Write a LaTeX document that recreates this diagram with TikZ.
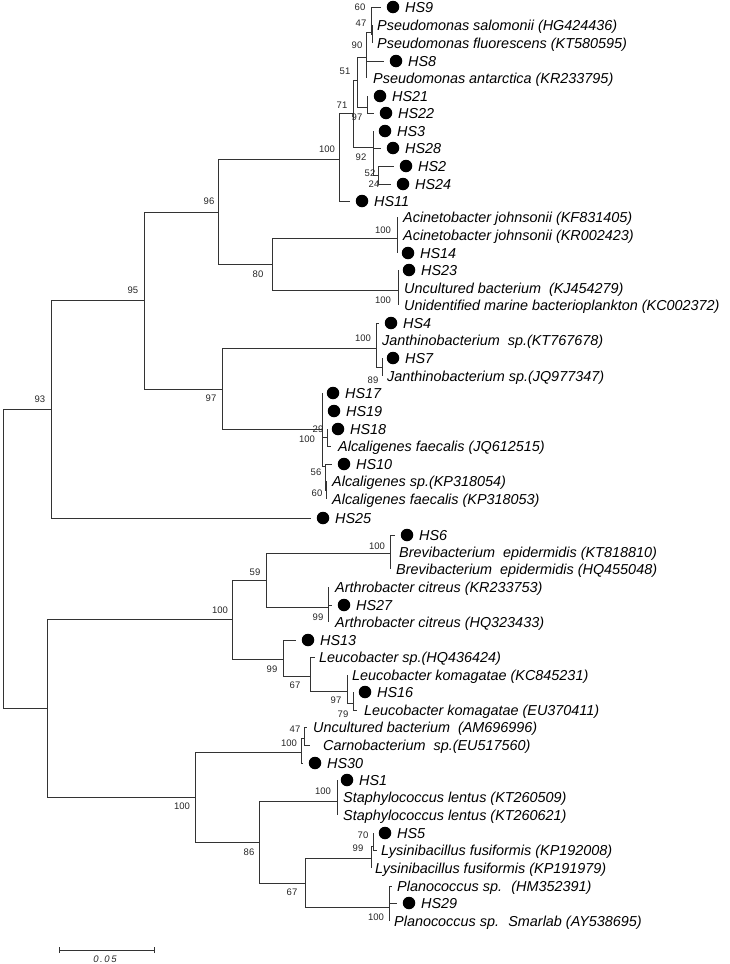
\documentclass[tikz,border=0pt]{standalone}
\usepackage{fontspec}
\setmainfont{Liberation Sans}
\newcommand\mtip[4]{% name, tip x, y, dot x, text
  \coordinate (#1) at (#2,#3);
  \node[mk] (#1d) at (#4,#3) {};
  \node[lf] (#1t) at ({#4+12},#3) {\mtiptext}}
\newcommand\mtiptext{}
\begin{document}
\begin{tikzpicture}[x=1pt,y=-1pt,
  br/.style={draw=black!80,line width=0.8pt},
  lf/.style={anchor=west,inner sep=0pt,font=\fontsize{14.4}{16}\selectfont\itshape,text height=10pt,text depth=0pt},
  bs/.style={inner sep=0pt,font=\fontsize{9.5}{11}\selectfont,text=black!85,text height=7pt,text depth=0pt},
  mk/.style={circle,fill=black,inner sep=0pt,minimum size=12.5pt}]
\useasboundingbox (0,0) rectangle (729,964);
% ---------- internal nodes ----------
\coordinate (R) at (3,409);
\coordinate (N93) at (51,409);
\coordinate (N95) at (144,300);
\coordinate (N96) at (218,212);
\coordinate (N97) at (222,389);
\coordinate (NP) at (339,159);
\coordinate (N71) at (353,113);
\coordinate (N51) at (357,80);
\coordinate (N90) at (366,57);
\coordinate (N60) at (371,32);
\coordinate (N47) at (372,34);
\coordinate (NHa) at (367,107);
\coordinate (N92) at (373,147);
\coordinate (N52) at (378,175);
\coordinate (N80) at (272,264);
\coordinate (NAc) at (397,238);
\coordinate (NUn) at (398,290);
\coordinate (NJ) at (376,348);
\coordinate (NJ89) at (382,367);
\coordinate (NAl) at (322,429);
\coordinate (N29) at (327,437);
\coordinate (N56) at (325,466);
\coordinate (N60b) at (326,490);
\coordinate (NL) at (47,708);
\coordinate (NG) at (232,619);
\coordinate (N59) at (266,580);
\coordinate (NBr) at (390,553);
\coordinate (NAr) at (328,607);
\coordinate (NLe) at (283,659);
\coordinate (NLe67) at (310,676);
\coordinate (NLe97) at (347,691);
\coordinate (NLe79) at (353,703);
\coordinate (NF) at (195,797);
\coordinate (NC) at (301,752);
\coordinate (N47b) at (304,738);
\coordinate (N86) at (259,842);
\coordinate (NS) at (337,801);
\coordinate (N67b) at (305,883);
\coordinate (NLy) at (371,858);
\coordinate (N70) at (373,846);
\coordinate (NPl) at (389,907);
% ---------- tips with marker ----------
\foreach \n/\tx/\ty/\dx/\lab in {
  HS9/381/7/393/HS9, HS8/384/61/396/HS8, HS21/368/96/380/HS21, HS22/374/113/386/HS22,
  HS3/373/131/385/HS3, HS28/381/148/393/HS28, HS2/394/166/406/HS2, HS24/391/184/403/HS24,
  HS11/350/201/362/HS11, HS14/397/253/408/HS14, HS23/398/270/409/HS23, HS4/379/323/391/HS4,
  HS7/382/358/393/HS7, HS17/322/393/333/HS17, HS19/322/411/334/HS19, HS18/327/429/338/HS18,
  HS10/332/464/344/HS10, HS25/311/518/323/HS25, HS6/395/535/407/HS6, HS27/332/605/344/HS27,
  HS13/296/640/308/HS13, HS16/353/692/365/HS16, HS30/303/763/315/HS30, HS1/337/780/347/HS1,
  HS5/373/833/385/HS5, HS29/397/903/409/HS29}{
  \coordinate (\n) at (\tx,\ty);
  \node[mk] (\n d) at (\dx,\ty) {};
  \node[lf] (\n t) at (\dx+12,\ty) {\lab};
}
% ---------- reference tips ----------
\foreach \n/\tx/\ty/\lx/\lab in {
  Psal/372/25/377/{Pseudomonas salomonii (HG424436)},
  Pflu/372/43/377/{Pseudomonas fluorescens (KT580595)},
  Pant/366/78/373/{Pseudomonas antarctica (KR233795)},
  AcKF/397/217/403/{Acinetobacter johnsonii (KF831405)},
  AcKR/397/235/403/{Acinetobacter johnsonii (KR002423)},
  UncKJ/398/288/404/{Uncultured bacterium \ (KJ454279)},
  Unid/398/305/404/{Unidentified marine bacterioplankton (KC002372)},
  JanKT/376/340/382/{Janthinobacterium \ sp.(KT767678)},
  JanJQ/382/376/387/{Janthinobacterium sp.(JQ977347)},
  AlcJQ/331/446/338/{Alcaligenes faecalis (JQ612515)},
  AlcSp/326/481/332/{Alcaligenes sp.(KP318054)},
  AlcKP/326/499/332/{Alcaligenes faecalis (KP318053)},
  BrKT/390/552/399/{Brevibacterium \ epidermidis (KT818810)},
  BrHQ/390/569/396/{Brevibacterium \ epidermidis (HQ455048)},
  ArKR/328/587/335/{Arthrobacter citreus (KR233753)},
  ArHQ/328/622/335/{Arthrobacter citreus (HQ323433)},
  LeuSp/315/657/319/{Leucobacter sp.(HQ436424)},
  LeuKC/347/675/352/{Leucobacter komagatae (KC845231)},
  LeuEU/357/710/364/{Leucobacter komagatae (EU370411)},
  UncAM/307/727/313/{Uncultured bacterium \ (AM696996)},
  Carno/310/745/323/{Carnobacterium \ sp.(EU517560)},
  St509/337/797/343/{Staphylococcus lentus (KT260509)},
  St621/337/815/343/{Staphylococcus lentus (KT260621)},
  Lys008/377/850/381/{Lysinibacillus fusiformis (KP192008)},
  Lys979/371/868/375/{Lysinibacillus fusiformis (KP191979)},
  PlHM/392/886/397/{Planococcus sp. \ (HM352391)},
  PlSm/389/921/394/{Planococcus sp. \ Smarlab (AY538695)}}{
  \coordinate (\n) at (\tx,\ty);
  \node[lf] (\n t) at (\lx,\ty) {\lab};
}
% ---------- branches ----------
\foreach \p/\c in {R/N93, R/NL, N93/N95, N93/HS25, N95/N96, N95/N97,
  N96/NP, N96/N80, NP/N71, NP/HS11, N71/N51, N71/N92, N51/N90, N51/NHa,
  N90/N60, N90/HS8, N90/Pant, N60/HS9, N60/N47, N47/Psal, N47/Pflu,
  NHa/HS21, NHa/HS22, N92/HS3, N92/HS28, N92/N52, N52/HS2, N52/HS24,
  N80/NAc, N80/NUn, NAc/AcKF, NAc/AcKR, NAc/HS14, NUn/HS23, NUn/UncKJ, NUn/Unid,
  N97/NJ, N97/NAl, NJ/HS4, NJ/JanKT, NJ/NJ89, NJ89/HS7, NJ89/JanJQ,
  NAl/HS17, NAl/HS19, NAl/N29, NAl/N56, N29/HS18, N29/AlcJQ, N56/HS10, N56/N60b,
  N60b/AlcSp, N60b/AlcKP,
  NL/NG, NL/NF, NG/N59, NG/NLe, N59/NBr, N59/NAr, NBr/HS6, NBr/BrKT, NBr/BrHQ,
  NAr/ArKR, NAr/HS27, NAr/ArHQ, NLe/HS13, NLe/NLe67, NLe67/LeuSp, NLe67/NLe97,
  NLe97/LeuKC, NLe97/NLe79, NLe79/HS16, NLe79/LeuEU,
  NF/NC, NF/N86, NC/N47b, NC/HS30, N47b/UncAM, N47b/Carno,
  N86/NS, N86/N67b, NS/HS1, NS/St509, NS/St621, N67b/NLy, N67b/NPl,
  NLy/N70, NLy/Lys979, N70/HS5, N70/Lys008, NPl/PlHM, NPl/HS29, NPl/PlSm}{
  \draw[br] (\p) |- (\c);
}
% ---------- bootstrap values ----------
\foreach \bx/\by/\v [count=\i] in {
  360/7/60, 361/23/47, 357/45/90, 345/71/51, 342/105/71, 357/117/97, 327/149/100,
  361/157/92, 370/173/52, 374/184/24, 209/201/96, 133/290/95, 258/274/80,
  383/230/100, 383/300/100, 363/338/100, 373/380/89, 211/398/97, 318/429/29,
  307/439/100, 316/472/56, 317/493/60, 40/399/93,
  377/546/100, 255/572/59, 220/610/100, 318/617/99, 272/669/99, 295/685/67,
  336/700/97, 343/714/79, 295/729/47, 289/743/100, 182/806/100, 323/791/100,
  249/852/86, 363/835/70, 358/848/99, 292/892/67, 376/917/100}{
  \node[bs] (bs\i) at (\bx,\by) {\v};
}
% ---------- scale bar ----------
\coordinate (sbL) at (59,950);
\coordinate (sbR) at (154,950);
\draw[br] (sbL) -- (sbR);
\draw[br] ([yshift=-3pt]sbL) -- ([yshift=3pt]sbL);
\draw[br] ([yshift=-3pt]sbR) -- ([yshift=3pt]sbR);
\node[bs,font=\fontsize{9.5}{11}\selectfont\itshape] (sbt) at (105,959) {0\,.\,0\,5};
\end{tikzpicture}
\end{document}
